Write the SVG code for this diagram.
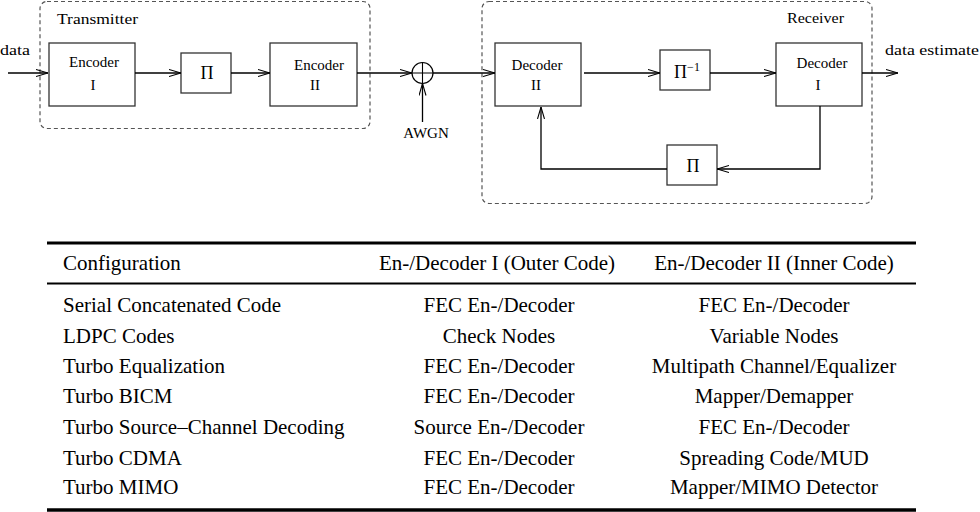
<svg xmlns="http://www.w3.org/2000/svg" width="980" height="512" viewBox="0 0 980 512">
<style>
  text { font-family: "Liberation Serif", "Times New Roman", serif; fill: #000; }
  .lbl { font-size: 15px; }
  .pi { font-size: 18px; }
  .tbl { font-size: 21px; }
  .box { fill: #fff; stroke: #333; stroke-width: 1.3; }
  .dash { fill: none; stroke: #555; stroke-width: 1.2; stroke-dasharray: 4 3; }
  .wire { fill: none; stroke: #000; stroke-width: 1.3; }
  .rule { stroke: #000; }
</style>
<defs>
  <marker id="arr" viewBox="0 0 12 8" refX="12" refY="4" markerWidth="12" markerHeight="8" markerUnits="userSpaceOnUse" orient="auto">
    <path d="M0,0.5 L12,4 L0,7.5" fill="none" stroke="#000" stroke-width="1.1"/>
  </marker>
</defs>
<rect width="980" height="512" fill="#fff"/>

<g id="transmitter">
  <rect class="dash" x="40" y="1.5" width="330" height="127" rx="7"/>
  <text class="lbl" x="57" y="24" textLength="81" lengthAdjust="spacingAndGlyphs">Transmitter</text>
</g>
<g id="receiver">
  <rect class="dash" x="482" y="1.5" width="390" height="202" rx="7"/>
  <text class="lbl" x="787" y="23" textLength="57" lengthAdjust="spacingAndGlyphs">Receiver</text>
</g>

<g id="encoder1">
  <rect class="box" x="49" y="43" width="86" height="63"/>
  <text class="lbl" x="94" y="67" text-anchor="middle">Encoder</text>
  <text class="lbl" x="93" y="90" text-anchor="middle">I</text>
</g>
<g id="pi1">
  <rect class="box" x="181" y="53" width="50" height="40"/>
  <text class="pi" x="207" y="79" text-anchor="middle">Π</text>
</g>
<g id="encoder2">
  <rect class="box" x="270" y="43" width="87" height="63"/>
  <text class="lbl" x="319" y="70" text-anchor="middle">Encoder</text>
  <text class="lbl" x="315" y="90" text-anchor="middle">II</text>
</g>
<g id="adder">
  <circle cx="422.5" cy="73" r="10.5" fill="#fff" stroke="#000" stroke-width="1.2"/>
  <path d="M412 73 H433 M422.5 62.5 V83.5" stroke="#000" stroke-width="1.1"/>
</g>
<g id="awgn">
  <text class="lbl" x="426" y="138" text-anchor="middle">AWGN</text>
</g>
<g id="decoder2">
  <rect class="box" x="495" y="43" width="86" height="63"/>
  <text class="lbl" x="537" y="70" text-anchor="middle">Decoder</text>
  <text class="lbl" x="536" y="90" text-anchor="middle">II</text>
</g>
<g id="pi_inv">
  <rect class="box" x="660" y="50" width="50" height="40"/>
  <text class="pi" x="687" y="78" text-anchor="middle">Π<tspan font-size="12" dy="-7">−1</tspan></text>
</g>
<g id="decoder1">
  <rect class="box" x="776" y="43" width="86" height="63"/>
  <text class="lbl" x="822" y="68" text-anchor="middle">Decoder</text>
  <text class="lbl" x="818" y="90" text-anchor="middle">I</text>
</g>
<g id="pi2">
  <rect class="box" x="667" y="145" width="50" height="40"/>
  <text class="pi" x="693" y="172" text-anchor="middle">Π</text>
</g>
<g id="io">
  <text class="lbl" x="0" y="55" textLength="30" lengthAdjust="spacingAndGlyphs">data</text>
  <text class="lbl" x="885" y="55" textLength="94" lengthAdjust="spacingAndGlyphs">data estimate</text>
</g>

<g id="connectors">
  <path class="wire" d="M8 73 H48" marker-end="url(#arr)"/>
  <path class="wire" d="M135 73 H181" marker-end="url(#arr)"/>
  <path class="wire" d="M231 73 H270" marker-end="url(#arr)"/>
  <path class="wire" d="M357 73 H412" marker-end="url(#arr)"/>
  <path class="wire" d="M422.5 122 V83.5" marker-end="url(#arr)"/>
  <path class="wire" d="M433 73 H495" marker-end="url(#arr)"/>
  <path class="wire" d="M584 73 H660" marker-end="url(#arr)"/>
  <path class="wire" d="M710 73 H776" marker-end="url(#arr)"/>
  <path class="wire" d="M862 73 H898" marker-end="url(#arr)"/>
  <path class="wire" d="M820 106 V169 H717" marker-end="url(#arr)"/>
  <path class="wire" d="M667 169 H541 V107" marker-end="url(#arr)"/>
</g>

<g id="table">
  <line class="rule" x1="47" y1="243" x2="916" y2="243" stroke-width="3"/>
  <line class="rule" x1="47" y1="283.5" x2="916" y2="283.5" stroke-width="2"/>
  <line class="rule" x1="47" y1="510" x2="916" y2="510" stroke-width="3.5"/>
  <g class="tbl">
    <text x="63" y="270">Configuration</text>
    <text x="497" y="270" text-anchor="middle">En-/Decoder I (Outer Code)</text>
    <text x="774" y="270" text-anchor="middle">En-/Decoder II (Inner Code)</text>

    <text x="63" y="312">Serial Concatenated Code</text>
    <text x="499" y="312" text-anchor="middle">FEC En-/Decoder</text>
    <text x="774" y="312" text-anchor="middle">FEC En-/Decoder</text>

    <text x="63" y="343">LDPC Codes</text>
    <text x="499" y="343" text-anchor="middle">Check Nodes</text>
    <text x="774" y="343" text-anchor="middle">Variable Nodes</text>

    <text x="63" y="373">Turbo Equalization</text>
    <text x="499" y="373" text-anchor="middle">FEC En-/Decoder</text>
    <text x="774" y="373" text-anchor="middle">Multipath Channel/Equalizer</text>

    <text x="63" y="403">Turbo BICM</text>
    <text x="499" y="403" text-anchor="middle">FEC En-/Decoder</text>
    <text x="774" y="403" text-anchor="middle">Mapper/Demapper</text>

    <text x="63" y="434">Turbo Source–Channel Decoding</text>
    <text x="499" y="434" text-anchor="middle">Source En-/Decoder</text>
    <text x="774" y="434" text-anchor="middle">FEC En-/Decoder</text>

    <text x="63" y="465">Turbo CDMA</text>
    <text x="499" y="465" text-anchor="middle">FEC En-/Decoder</text>
    <text x="774" y="465" text-anchor="middle">Spreading Code/MUD</text>

    <text x="63" y="494">Turbo MIMO</text>
    <text x="499" y="494" text-anchor="middle">FEC En-/Decoder</text>
    <text x="774" y="494" text-anchor="middle">Mapper/MIMO Detector</text>
  </g>
</g>
</svg>
